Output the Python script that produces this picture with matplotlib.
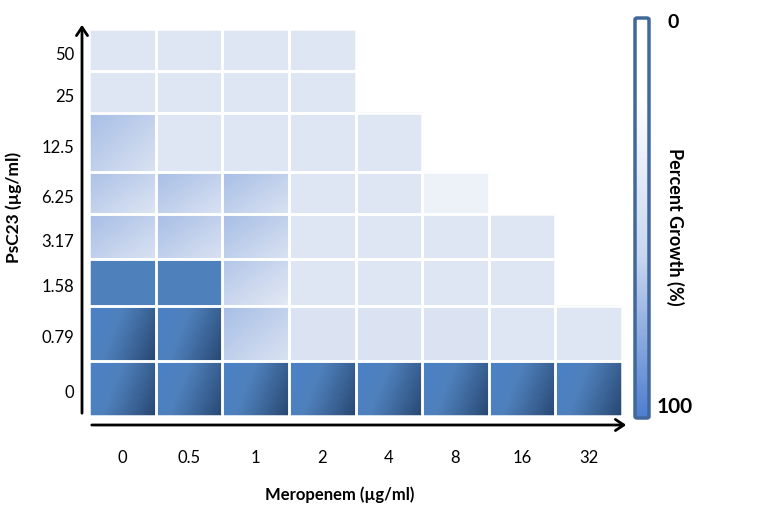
import numpy as np
import matplotlib.pyplot as plt
from matplotlib.colors import LinearSegmentedColormap
from matplotlib.patches import Rectangle, FancyBboxPatch, FancyArrowPatch

plt.rcParams['font.family'] = ['Lato', 'DejaVu Sans']

meropenem = ['0', '0.5', '1', '2', '4', '8', '16', '32']
psc23 = ['0', '0.79', '1.58', '3.17', '6.25', '12.5', '25', '50']

nan = np.nan
# percent growth, rows from PsC23 = 0 (bottom) to 50 (top)
growth = np.array([
    [100, 100, 100, 100, 100, 100, 100, 100],
    [100, 100, 40, 14, 14, 14, 12, 12],
    [85, 85, 35, 12, 12, 12, 12, nan],
    [40, 40, 40, 12, 12, 12, 12, nan],
    [38, 40, 40, 12, 12, 6, nan, nan],
    [40, 12, 12, 12, 12, nan, nan, nan],
    [12, 12, 12, 12, nan, nan, nan, nan],
    [12, 12, 12, 12, nan, nan, nan, nan],
])

# row heights in pixels (bottom to top), rows are not equal in the original
row_h = [55, 55, 47, 44, 42, 59, 42, 42]
row_edges = np.concatenate([[0], np.cumsum(row_h)])

cell_cmap = LinearSegmentedColormap.from_list('cells', [
    (0.0, '#ffffff'), (0.06, '#edf1f8'), (0.12, '#dfe6f3'),
    (0.4, '#a7bee6'), (0.8, '#4a80c6'), (0.85, '#4f81bd'), (1.0, '#1f3a60')])
bar_cmap = LinearSegmentedColormap.from_list('bar', [
    (0.0, '#ffffff'), (0.2, '#ffffff'), (0.6, '#c8d6f0'), (1.0, '#4f7fcf')])

fig = plt.figure(figsize=(7.58, 5.22), dpi=100)
W, H = 758, 522
ax = fig.add_axes([89 / W, 1 - 416 / H, (622 - 89) / W, (416 - 29) / H])

u, w = np.meshgrid(np.linspace(0, 1, 30), np.linspace(0, 1, 30))  # w: 0 top, 1 bottom
for i in range(len(psc23)):
    for j in range(len(meropenem)):
        v = growth[i, j]
        if np.isnan(v):
            continue
        v = v / 100
        if v >= 0.95:
            field = 0.8 + 0.17 * (0.75 * u + 0.25 * w) ** 1.3
        elif 0.25 <= v < 0.8:
            field = v - 0.25 * (u + w) / 2
        else:
            field = np.full_like(u, v)
        ax.imshow(field, cmap=cell_cmap, vmin=0, vmax=1, aspect='auto',
                  extent=[j, j + 1, row_edges[i], row_edges[i + 1]],
                  origin='upper', interpolation='bilinear', zorder=1)
        ax.add_patch(Rectangle((j, row_edges[i]), 1, row_h[i], fill=False,
                               edgecolor='white', lw=1.8, zorder=2))

ax.set_xlim(0, len(meropenem))
ax.set_ylim(0, row_edges[-1])
ax.axis('off')

# axis arrows
fig.patches.append(FancyArrowPatch(
    (82 / W, 1 - 416 / H), (82 / W, 1 - 22 / H), transform=fig.transFigure,
    arrowstyle='->,head_length=6,head_width=4', lw=2, color='black'))
fig.patches.append(FancyArrowPatch(
    (89 / W, 1 - 425 / H), (629 / W, 1 - 425 / H), transform=fig.transFigure,
    arrowstyle='->,head_length=6,head_width=4', lw=2, color='black'))

# tick labels
for j, lab in enumerate(meropenem):
    ax.text(j + 0.5, -42, lab, ha='center', va='center', fontsize=12, clip_on=False)
for i, lab in enumerate(psc23):
    ax.text(-0.22, (row_edges[i] + row_edges[i + 1]) / 2 - 5, lab, ha='right',
            va='center', fontsize=12, clip_on=False)

fig.text(340 / W, 1 - 495 / H, 'Meropenem (µg/ml)', ha='center', va='center',
         fontsize=12, fontweight='bold')
fig.text(14 / W, 1 - 207 / H, 'PsC23 (µg/ml)', ha='center', va='center',
         fontsize=12.5, fontweight='bold', rotation=90)

# colour bar
cax = fig.add_axes([635 / W, 1 - 418 / H, 14 / W, (418 - 18) / H])
cax.imshow(np.linspace(0, 1, 200).reshape(-1, 1), cmap=bar_cmap, aspect='auto',
           extent=[0, 1, 0, 1], origin='upper')
cax.set_xlim(0, 1)
cax.set_ylim(0, 1)
cax.axis('off')
fig.patches.append(FancyBboxPatch((635 / W, 1 - 418 / H), 14 / W, (418 - 18) / H,
                                  boxstyle='round,pad=0,rounding_size=0.003',
                                  transform=fig.transFigure, fill=False,
                                  edgecolor='#41689a', lw=2.5))
fig.text(673 / W, 1 - 23 / H, '0', ha='center', va='center', fontsize=14,
         fontweight='bold')
fig.text(675 / W, 1 - 407 / H, '100', ha='center', va='center', fontsize=15,
         fontweight='bold')
fig.text(675 / W, 1 - 227 / H, 'Percent Growth (%)', ha='center', va='center',
         fontsize=13, fontweight='bold', rotation=-90)

fig.savefig('out.png', dpi=100)
